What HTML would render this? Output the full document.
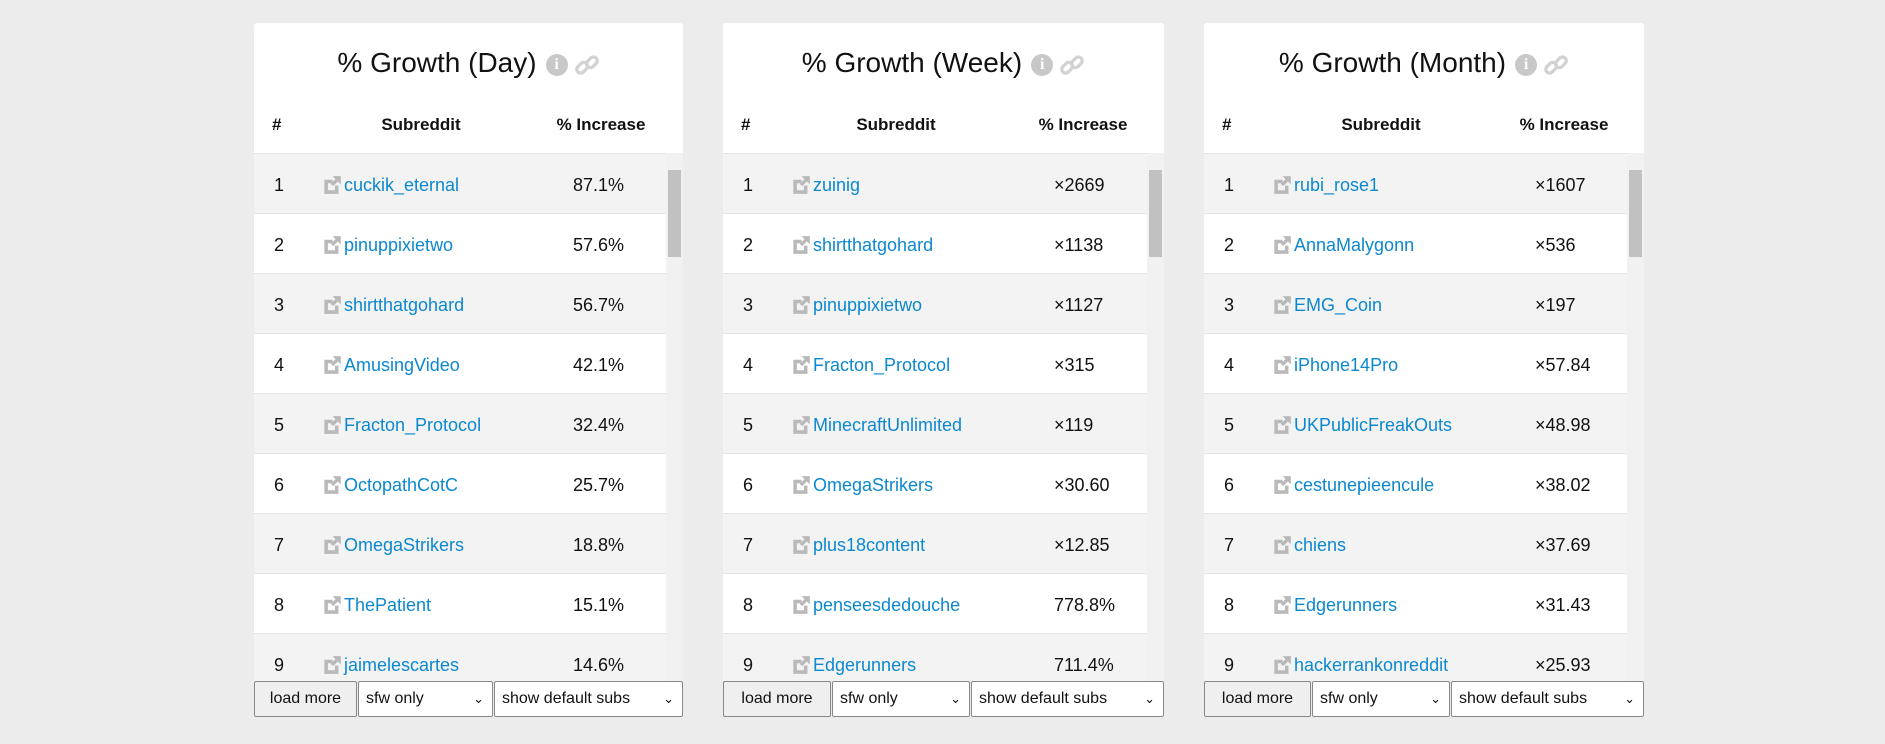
<!DOCTYPE html>
<html><head><meta charset="utf-8"><style>
*{box-sizing:border-box;margin:0;padding:0}
body{width:1885px;height:744px;background:#ececec;font-family:"Liberation Sans",sans-serif;position:relative;overflow:hidden}
.p{position:absolute;top:23px;height:658px;background:#fff;border-radius:3px 3px 0 0}
.t{position:absolute;top:20px;left:0;right:0;text-align:center;font-size:28px;color:#111;height:40px;line-height:40px;white-space:nowrap}
.ic{display:inline-block;width:22px;height:22px;border-radius:50%;background:#c8c8c8;color:#fff;font-size:16px;font-weight:bold;line-height:22px;text-align:center;vertical-align:middle;margin-left:9px;font-family:"Liberation Serif",serif}
.ln{display:inline-block;width:26px;height:26px;vertical-align:middle;margin-left:6px}
.h{position:absolute;top:92px;font-weight:bold;font-size:17px;color:#111;white-space:nowrap}
.rows{position:absolute;top:130px;left:0;height:528px;overflow:hidden}
.r{height:60px;border-top:1px solid #e4e4e4;position:relative;font-size:18px;white-space:nowrap}
.r.g{background:#f3f3f3}
.r span{position:absolute;top:21px}
.n{color:#111}
.a{color:#0b88cf}
.v{color:#111}
.x{position:absolute;top:21px;width:20px;height:20px}
.sb{position:absolute;top:130px;width:17px;height:528px;background:#f1f1f1}
.th{position:absolute;top:17px;left:2px;width:13px;height:87px;background:#c1c1c1}
.ctl{position:absolute;top:681px;height:36px;border:1px solid #888;border-radius:2px;background:#fff;font-size:16px;color:#111;line-height:34px;padding-left:7px;white-space:nowrap}
.ctl.b{background:#efefef;text-align:center;padding:0}
.ctl .d{position:absolute;right:8px;top:0;font-size:13px}
</style></head><body>
<svg width="0" height="0" style="position:absolute"><defs>
<symbol id="ext" viewBox="0 0 17 17"><path d="M2 4h7v3H5v6h6V9h3v7H2z" fill="#b9b9b9"/><path d="M9 1h7v7l-2.5-2.5-4 4-2-2 4-4z" fill="#b9b9b9"/></symbol>
<symbol id="lnk" viewBox="0 0 24 24"><g fill="none" stroke="#d2d2d2" stroke-width="3"><rect x="2" y="11" width="11" height="7" rx="3.5" transform="rotate(-45 7.5 14.5)"/><rect x="11" y="6" width="11" height="7" rx="3.5" transform="rotate(-45 16.5 9.5)"/></g></symbol>
</defs></svg>

<div class="p" style="left:254px;width:429px">
<div class="t">% Growth (Day)<span class="ic">i</span><svg class="ln"><use href="#lnk"/></svg></div>
<div class="h" style="left:18px">#</div><div class="h" style="left:167px;transform:translateX(-50%)">Subreddit</div><div class="h" style="left:347px;transform:translateX(-50%)">% Increase</div>
<div class="rows" style="width:412px">
<div class="r g"><span class="n" style="left:20px">1</span><svg class="x" style="left:68px"><use href="#ext"/></svg><span class="a" style="left:90px">cuckik_eternal</span><span class="v" style="left:319px">87.1%</span></div>
<div class="r"><span class="n" style="left:20px">2</span><svg class="x" style="left:68px"><use href="#ext"/></svg><span class="a" style="left:90px">pinuppixietwo</span><span class="v" style="left:319px">57.6%</span></div>
<div class="r g"><span class="n" style="left:20px">3</span><svg class="x" style="left:68px"><use href="#ext"/></svg><span class="a" style="left:90px">shirtthatgohard</span><span class="v" style="left:319px">56.7%</span></div>
<div class="r"><span class="n" style="left:20px">4</span><svg class="x" style="left:68px"><use href="#ext"/></svg><span class="a" style="left:90px">AmusingVideo</span><span class="v" style="left:319px">42.1%</span></div>
<div class="r g"><span class="n" style="left:20px">5</span><svg class="x" style="left:68px"><use href="#ext"/></svg><span class="a" style="left:90px">Fracton_Protocol</span><span class="v" style="left:319px">32.4%</span></div>
<div class="r"><span class="n" style="left:20px">6</span><svg class="x" style="left:68px"><use href="#ext"/></svg><span class="a" style="left:90px">OctopathCotC</span><span class="v" style="left:319px">25.7%</span></div>
<div class="r g"><span class="n" style="left:20px">7</span><svg class="x" style="left:68px"><use href="#ext"/></svg><span class="a" style="left:90px">OmegaStrikers</span><span class="v" style="left:319px">18.8%</span></div>
<div class="r"><span class="n" style="left:20px">8</span><svg class="x" style="left:68px"><use href="#ext"/></svg><span class="a" style="left:90px">ThePatient</span><span class="v" style="left:319px">15.1%</span></div>
<div class="r g"><span class="n" style="left:20px">9</span><svg class="x" style="left:68px"><use href="#ext"/></svg><span class="a" style="left:90px">jaimelescartes</span><span class="v" style="left:319px">14.6%</span></div>
</div>
<div class="sb" style="left:412px"><div class="th"></div></div>
</div>
<div class="ctl b" style="left:254px;width:103px">load more</div>
<div class="ctl" style="left:358px;width:135px">sfw only<span class="d">&#8964;</span></div>
<div class="ctl" style="left:494px;width:189px">show default subs<span class="d">&#8964;</span></div>

<div class="p" style="left:723px;width:441px">
<div class="t">% Growth (Week)<span class="ic">i</span><svg class="ln"><use href="#lnk"/></svg></div>
<div class="h" style="left:18px">#</div><div class="h" style="left:173px;transform:translateX(-50%)">Subreddit</div><div class="h" style="left:360px;transform:translateX(-50%)">% Increase</div>
<div class="rows" style="width:424px">
<div class="r g"><span class="n" style="left:20px">1</span><svg class="x" style="left:68px"><use href="#ext"/></svg><span class="a" style="left:90px">zuinig</span><span class="v" style="left:331px">×2669</span></div>
<div class="r"><span class="n" style="left:20px">2</span><svg class="x" style="left:68px"><use href="#ext"/></svg><span class="a" style="left:90px">shirtthatgohard</span><span class="v" style="left:331px">×1138</span></div>
<div class="r g"><span class="n" style="left:20px">3</span><svg class="x" style="left:68px"><use href="#ext"/></svg><span class="a" style="left:90px">pinuppixietwo</span><span class="v" style="left:331px">×1127</span></div>
<div class="r"><span class="n" style="left:20px">4</span><svg class="x" style="left:68px"><use href="#ext"/></svg><span class="a" style="left:90px">Fracton_Protocol</span><span class="v" style="left:331px">×315</span></div>
<div class="r g"><span class="n" style="left:20px">5</span><svg class="x" style="left:68px"><use href="#ext"/></svg><span class="a" style="left:90px">MinecraftUnlimited</span><span class="v" style="left:331px">×119</span></div>
<div class="r"><span class="n" style="left:20px">6</span><svg class="x" style="left:68px"><use href="#ext"/></svg><span class="a" style="left:90px">OmegaStrikers</span><span class="v" style="left:331px">×30.60</span></div>
<div class="r g"><span class="n" style="left:20px">7</span><svg class="x" style="left:68px"><use href="#ext"/></svg><span class="a" style="left:90px">plus18content</span><span class="v" style="left:331px">×12.85</span></div>
<div class="r"><span class="n" style="left:20px">8</span><svg class="x" style="left:68px"><use href="#ext"/></svg><span class="a" style="left:90px">penseesdedouche</span><span class="v" style="left:331px">778.8%</span></div>
<div class="r g"><span class="n" style="left:20px">9</span><svg class="x" style="left:68px"><use href="#ext"/></svg><span class="a" style="left:90px">Edgerunners</span><span class="v" style="left:331px">711.4%</span></div>
</div>
<div class="sb" style="left:424px"><div class="th"></div></div>
</div>
<div class="ctl b" style="left:723px;width:108px">load more</div>
<div class="ctl" style="left:832px;width:138px">sfw only<span class="d">&#8964;</span></div>
<div class="ctl" style="left:971px;width:193px">show default subs<span class="d">&#8964;</span></div>

<div class="p" style="left:1204px;width:440px">
<div class="t">% Growth (Month)<span class="ic">i</span><svg class="ln"><use href="#lnk"/></svg></div>
<div class="h" style="left:18px">#</div><div class="h" style="left:177px;transform:translateX(-50%)">Subreddit</div><div class="h" style="left:360px;transform:translateX(-50%)">% Increase</div>
<div class="rows" style="width:423px">
<div class="r g"><span class="n" style="left:20px">1</span><svg class="x" style="left:68px"><use href="#ext"/></svg><span class="a" style="left:90px">rubi_rose1</span><span class="v" style="left:331px">×1607</span></div>
<div class="r"><span class="n" style="left:20px">2</span><svg class="x" style="left:68px"><use href="#ext"/></svg><span class="a" style="left:90px">AnnaMalygonn</span><span class="v" style="left:331px">×536</span></div>
<div class="r g"><span class="n" style="left:20px">3</span><svg class="x" style="left:68px"><use href="#ext"/></svg><span class="a" style="left:90px">EMG_Coin</span><span class="v" style="left:331px">×197</span></div>
<div class="r"><span class="n" style="left:20px">4</span><svg class="x" style="left:68px"><use href="#ext"/></svg><span class="a" style="left:90px">iPhone14Pro</span><span class="v" style="left:331px">×57.84</span></div>
<div class="r g"><span class="n" style="left:20px">5</span><svg class="x" style="left:68px"><use href="#ext"/></svg><span class="a" style="left:90px">UKPublicFreakOuts</span><span class="v" style="left:331px">×48.98</span></div>
<div class="r"><span class="n" style="left:20px">6</span><svg class="x" style="left:68px"><use href="#ext"/></svg><span class="a" style="left:90px">cestunepieencule</span><span class="v" style="left:331px">×38.02</span></div>
<div class="r g"><span class="n" style="left:20px">7</span><svg class="x" style="left:68px"><use href="#ext"/></svg><span class="a" style="left:90px">chiens</span><span class="v" style="left:331px">×37.69</span></div>
<div class="r"><span class="n" style="left:20px">8</span><svg class="x" style="left:68px"><use href="#ext"/></svg><span class="a" style="left:90px">Edgerunners</span><span class="v" style="left:331px">×31.43</span></div>
<div class="r g"><span class="n" style="left:20px">9</span><svg class="x" style="left:68px"><use href="#ext"/></svg><span class="a" style="left:90px">hackerrankonreddit</span><span class="v" style="left:331px">×25.93</span></div>
</div>
<div class="sb" style="left:423px"><div class="th"></div></div>
</div>
<div class="ctl b" style="left:1204px;width:107px">load more</div>
<div class="ctl" style="left:1312px;width:138px">sfw only<span class="d">&#8964;</span></div>
<div class="ctl" style="left:1451px;width:193px">show default subs<span class="d">&#8964;</span></div>
</body></html>
